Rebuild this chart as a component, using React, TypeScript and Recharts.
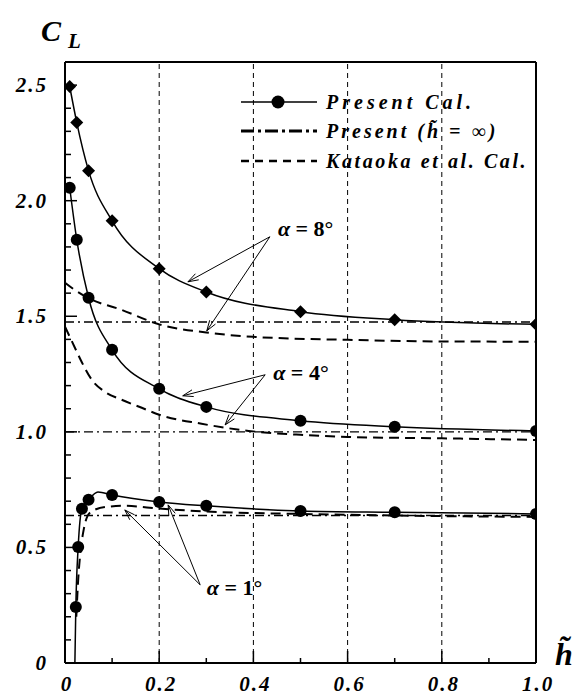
import React from 'react';
import { ComposedChart, Line, XAxis, YAxis, ReferenceLine, ReferenceDot, Legend, Label } from 'recharts';

const FONT = '"Liberation Serif", "Times New Roman", serif';

// ---- Present Cal. (solid with markers) ----
const h8 = [0.01, 0.025, 0.05, 0.1, 0.2, 0.3, 0.5, 0.7, 1.0];
const cl8 = [2.494, 2.338, 2.13, 1.913, 1.706, 1.605, 1.52, 1.485, 1.465];
const h4 = [0.01, 0.025, 0.05, 0.1, 0.2, 0.3, 0.5, 0.7, 1.0];
const cl4 = [2.056, 1.831, 1.58, 1.355, 1.186, 1.108, 1.048, 1.022, 1.004];
const h1Marks = [0.023, 0.028, 0.036, 0.05, 0.1, 0.2, 0.3, 0.5, 0.7, 1.0];
const cl1Marks = [0.242, 0.502, 0.667, 0.706, 0.727, 0.697, 0.68, 0.658, 0.652, 0.645];
const h1Curve = [0.021, 0.023, 0.028, 0.036, 0.05, 0.07, 0.1, 0.2, 0.3, 0.5, 0.7, 1.0];
const cl1Curve = [0, 0.242, 0.502, 0.667, 0.706, 0.74, 0.727, 0.697, 0.68, 0.658, 0.652, 0.645];

// ---- Present (h = infinity) ----
const hInf = [0, 1.0];
const clInf8 = [1.475, 1.475];
const clInf4 = [1.0, 1.0];
const clInf1 = [0.638, 0.638];

// ---- Kataoka et al. Cal. ----
const hK8 = [0, 0.02, 0.05, 0.12, 0.2, 0.3, 0.4, 0.6, 0.8, 1.0];
const clK8 = [1.645, 1.615, 1.578, 1.528, 1.465, 1.43, 1.411, 1.398, 1.391, 1.39];
const hK4 = [0, 0.021, 0.036, 0.057, 0.085, 0.12, 0.163, 0.2, 0.29, 0.39, 0.5, 0.6, 0.8, 1.0];
const clK4 = [1.455, 1.364, 1.3, 1.225, 1.173, 1.139, 1.104, 1.074, 1.035, 1.004, 0.987, 0.978, 0.972, 0.965];
const hK1 = [0.024, 0.028, 0.034, 0.04, 0.053, 0.085, 0.127, 0.2, 0.3, 0.5, 0.7, 1.0];
const clK1 = [0.2, 0.36, 0.5, 0.58, 0.65, 0.675, 0.68, 0.668, 0.655, 0.645, 0.638, 0.632];

// ---- axes ----
const xTicks = [0, 0.1, 0.2, 0.3, 0.4, 0.5, 0.6, 0.7, 0.8, 0.9, 1.0];
const yTicks = [0, 0.1, 0.2, 0.3, 0.4, 0.5, 0.6, 0.7, 0.8, 0.9, 1.0, 1.1, 1.2, 1.3, 1.4, 1.5, 1.6, 1.7, 1.8, 1.9, 2.0, 2.1, 2.2, 2.3, 2.4, 2.5];
const gridX = [0.2, 0.4, 0.6, 0.8];

// ---- annotations ----
const annLabels = ['α = 8°', 'α = 4°', 'α = 1°'];
const annTextH = [0.452, 0.442, 0.301];
const annTextCl = [1.848, 1.225, 0.294];
const annFromH = [0.435, 0.425, 0.287];
const annFromCl = [1.844, 1.247, 0.338];
const annTipH = [[0.261, 0.301], [0.25, 0.34], [0.127, 0.219]];
const annTipCl = [[1.649, 1.437], [1.156, 1.03], [0.662, 0.684]];

const toData = (xs: number[], ys: number[]) => xs.map((h, i) => ({ h, cl: ys[i] }));

const tickText = { fontFamily: FONT, fontWeight: 'bold' as const, fontStyle: 'italic' as const, fontSize: 21, fill: '#000' };

const XTick = (props: any) => {
  const { x, y, payload } = props;
  const v = payload.value as number;
  const major = Math.round(v * 10) % 2 === 0;
  return (
    <g>
      <line x1={x} y1={y} x2={x} y2={y - (major ? 12 : 5)} stroke="#000" strokeWidth={1.5} />
      {major && (
        <text x={x + 2} y={y + 28} textAnchor="middle" style={tickText} letterSpacing={2}>
          {v === 0 ? '0' : v.toFixed(1)}
        </text>
      )}
    </g>
  );
};

const YTick = (props: any) => {
  const { x, y, payload } = props;
  const v = payload.value as number;
  const major = Math.round(v * 10) % 5 === 0;
  return (
    <g>
      <line x1={x} y1={y} x2={x + (major ? 12 : 6)} y2={y} stroke="#000" strokeWidth={1.5} />
      {major && (
        <text x={x - 17} y={y + 7} textAnchor="end" style={tickText} letterSpacing={2}>
          {v === 0 ? '0' : v.toFixed(1)}
        </text>
      )}
    </g>
  );
};

const Diamond = (p: any) => {
  const { cx, cy, index } = p;
  const s = 6.5;
  return <polygon key={`d${index}`} points={`${cx},${cy - s} ${cx + s},${cy} ${cx},${cy + s} ${cx - s},${cy}`} fill="#000" />;
};

const Arrow = (p: any) => {
  const { x1, y1, x2, y2 } = p;
  const ang = Math.atan2(y2 - y1, x2 - x1);
  const L = 11;
  const w = 0.32;
  const ax = x2 - L * Math.cos(ang - w);
  const ay = y2 - L * Math.sin(ang - w);
  const bx = x2 - L * Math.cos(ang + w);
  const by = y2 - L * Math.sin(ang + w);
  return (
    <g>
      <line x1={x1} y1={y1} x2={x2} y2={y2} stroke="#000" strokeWidth={1} />
      <polyline points={`${ax},${ay} ${x2},${y2} ${bx},${by}`} fill="none" stroke="#000" strokeWidth={1} />
    </g>
  );
};

const AnnText = (label: string) => (p: any) => {
  const parts = label.split(' = ');
  return (
    <text x={p.cx} y={p.cy} style={{ fontFamily: FONT, fontWeight: 'bold', fontSize: 22, fill: '#000' }}>
      <tspan fontStyle="italic">{parts[0]}</tspan>
      <tspan> = {parts[1]}</tspan>
    </text>
  );
};

const legendText = { fontFamily: FONT, fontWeight: 'bold' as const, fontStyle: 'italic' as const, fontSize: 20, fill: '#000' };

const LegendContent = () => (
  <svg width={335} height={95} style={{ display: 'block' }}>
    <line x1={5} y1={12} x2={81} y2={12} stroke="#000" strokeWidth={1.6} />
    <circle cx={42} cy={12} r={6.5} fill="#000" />
    <text x={90} y={19} style={legendText} letterSpacing={4}>Present Cal.</text>
    <line x1={5} y1={41} x2={81} y2={41} stroke="#000" strokeWidth={3} strokeDasharray="13 4 3 4" />
    <text x={90} y={48} style={legendText} letterSpacing={3}>Present (h&#771; = ∞)</text>
    <line x1={5} y1={71} x2={81} y2={71} stroke="#000" strokeWidth={2.5} strokeDasharray="8 6" />
    <text x={90} y={78} style={legendText} letterSpacing={2.6}>Kataoka et al. Cal.</text>
  </svg>
);

const YTitle = (props: any) => {
  const vb = props.viewBox || { x: 0, y: 62 };
  return (
    <g>
      <text x={vb.x + 41} y={vb.y - 21} style={{ fontFamily: FONT, fontWeight: 'bold', fontStyle: 'italic', fontSize: 30, fill: '#000' }}>C</text>
      <text x={vb.x + 68} y={vb.y - 14} style={{ fontFamily: FONT, fontWeight: 'bold', fontStyle: 'italic', fontSize: 21, fill: '#000' }}>L</text>
    </g>
  );
};

const XTitle = (props: any) => {
  const vb = props.viewBox || { x: 65, y: 663, width: 471 };
  const x = vb.x + vb.width + 19;
  return (
    <text x={x} y={vb.y + 2} style={{ fontFamily: FONT, fontWeight: 'bold', fontStyle: 'italic', fontSize: 32, fill: '#000' }}>
      h&#771;
    </text>
  );
};

export default function App() {
  return (
    <div style={{ position: 'absolute', left: 0, top: 0, background: '#fff' }}>
      <ComposedChart width={577} height={698} margin={{ top: 62, right: 41, bottom: 0, left: 0 }}>
        <XAxis
          type="number"
          dataKey="h"
          domain={[0, 1]}
          ticks={xTicks}
          interval={0}
          height={35}
          tickSize={0}
          tickMargin={0}
          tickLine={false}
          axisLine={{ stroke: '#000', strokeWidth: 2 }}
          tick={<XTick />}
          allowDataOverflow
        >
          <Label content={<XTitle />} />
        </XAxis>
        <YAxis
          type="number"
          dataKey="cl"
          domain={[0, 2.6]}
          ticks={yTicks}
          interval={0}
          width={65}
          tickSize={0}
          tickMargin={0}
          tickLine={false}
          axisLine={{ stroke: '#000', strokeWidth: 2 }}
          tick={<YTick />}
          allowDataOverflow
        >
          <Label content={<YTitle />} />
        </YAxis>

        {gridX.map((g) => (
          <ReferenceLine key={`g${g}`} x={g} stroke="#000" strokeWidth={1} strokeDasharray="5 4" />
        ))}
        <ReferenceLine y={2.6} stroke="#000" strokeWidth={2} />
        <ReferenceLine x={1} stroke="#000" strokeWidth={2} />

        {/* Present h = infinity (dash-dot) */}
        <Line data={toData(hInf, clInf8)} dataKey="cl" type="linear" stroke="#000" strokeWidth={1.4} strokeDasharray="9 4 2 4" dot={false} isAnimationActive={false} />
        <Line data={toData(hInf, clInf4)} dataKey="cl" type="linear" stroke="#000" strokeWidth={1.4} strokeDasharray="9 4 2 4" dot={false} isAnimationActive={false} />
        <Line data={toData(hInf, clInf1)} dataKey="cl" type="linear" stroke="#000" strokeWidth={1.4} strokeDasharray="9 4 2 4" dot={false} isAnimationActive={false} />

        {/* Kataoka et al. (dashed) */}
        <Line data={toData(hK8, clK8)} dataKey="cl" type="monotone" stroke="#000" strokeWidth={2} strokeDasharray="10 6" dot={false} isAnimationActive={false} />
        <Line data={toData(hK4, clK4)} dataKey="cl" type="monotone" stroke="#000" strokeWidth={2} strokeDasharray="10 6" dot={false} isAnimationActive={false} />
        <Line data={toData(hK1, clK1)} dataKey="cl" type="monotone" stroke="#000" strokeWidth={2} strokeDasharray="10 6" dot={false} isAnimationActive={false} />

        {/* Present Cal. (solid + markers) */}
        <Line data={toData(h8, cl8)} dataKey="cl" type="monotone" stroke="#000" strokeWidth={1.5} dot={Diamond} isAnimationActive={false} />
        <Line data={toData(h4, cl4)} dataKey="cl" type="monotone" stroke="#000" strokeWidth={1.5} dot={{ r: 6, fill: '#000', stroke: '#000', strokeWidth: 0 }} isAnimationActive={false} />
        <Line data={toData(h1Curve, cl1Curve)} dataKey="cl" type="monotone" stroke="#000" strokeWidth={1.5} dot={false} isAnimationActive={false} />
        <Line data={toData(h1Marks, cl1Marks)} dataKey="cl" type="linear" stroke="none" dot={{ r: 6, fill: '#000', stroke: '#000', strokeWidth: 0 }} isAnimationActive={false} />

        {/* annotations */}
        {annLabels.map((lab, i) =>
          annTipH[i].map((th, j) => (
            <ReferenceLine
              key={`a${i}${j}`}
              segment={[{ x: annFromH[i], y: annFromCl[i] }, { x: th, y: annTipCl[i][j] }]}
              shape={Arrow}
            />
          ))
        )}
        {annLabels.map((lab, i) => (
          <ReferenceDot key={`t${i}`} x={annTextH[i]} y={annTextCl[i]} r={0} shape={AnnText(lab)} />
        ))}

        <Legend
          layout="horizontal"
          verticalAlign="middle"
          align="center"
          content={<LegendContent />}
          wrapperStyle={{ position: 'absolute', left: 236, top: 90, width: 335 }}
        />
      </ComposedChart>
    </div>
  );
}
